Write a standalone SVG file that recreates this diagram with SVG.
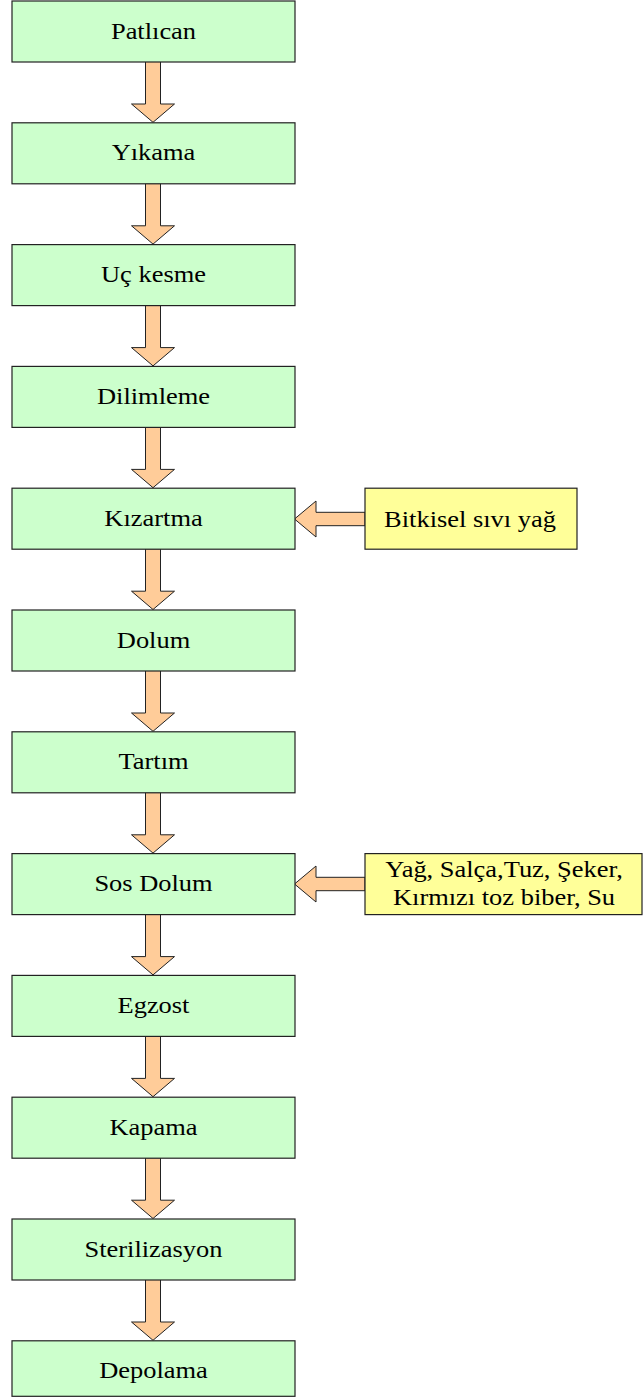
<svg xmlns="http://www.w3.org/2000/svg" width="643" height="1397" viewBox="0 0 643 1397">
<style>
.step{fill:#CCFFCC;stroke:#222;stroke-width:1.2}
.input{fill:#FFFF99;stroke:#222;stroke-width:1.2}
.arrow{fill:#FFCC99;stroke:#222;stroke-width:1}
.lbl{font-family:"Liberation Serif","Times New Roman",serif;font-size:23px;fill:#000;text-anchor:middle}
</style>
<defs>
<polygon id="down" class="arrow" points="-7.5,0 7.5,0 7.5,42.5 21.5,42.5 0,60.8 -21.5,42.5 -7.5,42.5"/>
<polygon id="left" class="arrow" points="0,0 21.5,-18 21.5,-6.7 70.5,-6.7 70.5,6.7 21.5,6.7 21.5,18"/>
</defs>
<rect width="643" height="1397" fill="#fff"/>
<g id="connectors">
<use href="#down" x="153" y="61.5"/>
<use href="#down" x="153" y="183.3"/>
<use href="#down" x="153" y="305.1"/>
<use href="#down" x="153" y="426.9"/>
<use href="#down" x="153" y="548.7"/>
<use href="#down" x="153" y="670.5"/>
<use href="#down" x="153" y="792.3"/>
<use href="#down" x="153" y="914.1"/>
<use href="#down" x="153" y="1035.9"/>
<use href="#down" x="153" y="1157.7"/>
<use href="#down" x="153" y="1279.5"/>
<use href="#left" x="294.5" y="519"/>
<use href="#left" x="294.5" y="884"/>
</g>
<g id="n1"><rect class="step" x="12" y="1" width="283" height="61"/><text class="lbl" transform="translate(153.5,38.5) scale(1.15,1)">Patlıcan</text></g>
<g id="n2"><rect class="step" x="12" y="122.8" width="283" height="61"/><text class="lbl" transform="translate(153.5,160.3) scale(1.15,1)">Yıkama</text></g>
<g id="n3"><rect class="step" x="12" y="244.6" width="283" height="61"/><text class="lbl" transform="translate(153.5,282.1) scale(1.15,1)">Uç kesme</text></g>
<g id="n4"><rect class="step" x="12" y="366.4" width="283" height="61"/><text class="lbl" transform="translate(153.5,403.9) scale(1.15,1)">Dilimleme</text></g>
<g id="n5"><rect class="step" x="12" y="488.2" width="283" height="61"/><text class="lbl" transform="translate(153.5,525.7) scale(1.15,1)">Kızartma</text></g>
<g id="n6"><rect class="step" x="12" y="610" width="283" height="61"/><text class="lbl" transform="translate(153.5,647.5) scale(1.15,1)">Dolum</text></g>
<g id="n7"><rect class="step" x="12" y="731.8" width="283" height="61"/><text class="lbl" transform="translate(153.5,769.3) scale(1.15,1)">Tartım</text></g>
<g id="n8"><rect class="step" x="12" y="853.6" width="283" height="61"/><text class="lbl" transform="translate(153.5,891.1) scale(1.15,1)">Sos Dolum</text></g>
<g id="n9"><rect class="step" x="12" y="975.4" width="283" height="61"/><text class="lbl" transform="translate(153.5,1012.9) scale(1.15,1)">Egzost</text></g>
<g id="n10"><rect class="step" x="12" y="1097.2" width="283" height="61"/><text class="lbl" transform="translate(153.5,1134.7) scale(1.15,1)">Kapama</text></g>
<g id="n11"><rect class="step" x="12" y="1219" width="283" height="61"/><text class="lbl" transform="translate(153.5,1256.5) scale(1.15,1)">Sterilizasyon</text></g>
<g id="n12"><rect class="step" x="12" y="1340.8" width="283" height="55.5"/><text class="lbl" transform="translate(153.5,1378.3) scale(1.15,1)">Depolama</text></g>
<g id="in1"><rect class="input" x="365" y="488.2" width="212" height="61"/><text class="lbl" transform="translate(470,527) scale(1.15,1)">Bitkisel sıvı yağ</text></g>
<g id="in2"><rect class="input" x="365" y="853.6" width="277" height="61"/><text class="lbl" transform="translate(504,877) scale(1.15,1)">Yağ, Salça,Tuz, Şeker,</text><text class="lbl" transform="translate(504,905) scale(1.15,1)">Kırmızı toz biber, Su</text></g>
</svg>
